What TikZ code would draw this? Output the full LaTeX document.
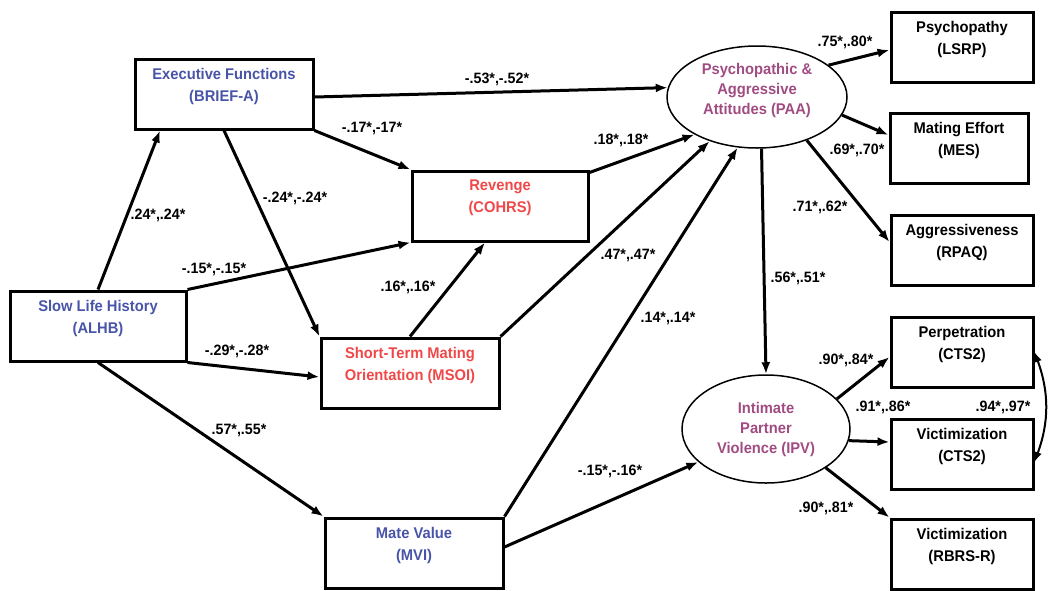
\documentclass[tikz,border=0pt]{standalone}
\usepackage{fontspec}
\setmainfont{Liberation Sans}[FakeStretch=0.95]
\usepackage{tikz}
\usetikzlibrary{calc}
\usetikzlibrary{arrows.meta}
\usetikzlibrary{shapes.geometric}

\definecolor{predblue}{RGB}{72,84,168}
\definecolor{medred}{RGB}{240,72,72}
\definecolor{latpurple}{RGB}{160,76,130}

% two lines, set a little above the middle of the box
\newcommand\twoline[2]{#1\\#2\\[-3pt]\mbox{}}

\begin{document}
\begin{tikzpicture}[x=1pt,y=-1pt,
  box/.style={draw,line width=3pt,minimum width=178pt,minimum height=70pt,
    inner sep=0pt,align=center,font=\fontsize{15.5}{22}\selectfont\bfseries},
  ind/.style={box,minimum width=142pt},
  latent/.style={draw,ellipse,line width=1.5pt,inner sep=0pt,text=latpurple,
    minimum width=180pt,minimum height=102pt,align=center,
    font=\fontsize{15.5}{20}\selectfont\bfseries},
  arr/.style={line width=3pt,-{Latex[length=12pt,width=9pt]}},
  coef/.style={font=\fontsize{15}{18}\selectfont\bfseries,inner sep=0pt}]
  % Boundary
  \path[use as bounding box] (0,0) rectangle (1048,590);
  % Predictors
  \node[box,text=predblue] (ef) at (224,94) {\twoline{Executive Functions}{(BRIEF-A)}};
  \node[box,text=predblue,minimum width=176pt] (alhb) at (98,326) {\twoline{Slow Life History}{(ALHB)}};
  \node[box,text=medred,minimum width=176pt] (rev) at (500,206) {\twoline{Revenge}{(COHRS)}};
  \node[box,text=medred] (msoi) at (410,373) {\twoline{Short-Term Mating}{Orientation (MSOI)}};
  \node[box,text=predblue] (mvi) at (414,553) {\twoline{Mate Value}{(MVI)}};
  % Latent variables
  \node[latent] (paa) at (757,97) {Psychopathic \&\\Aggressive\\Attitudes (PAA)\\[-4pt]\mbox{}};
  \node[latent,minimum width=168pt,minimum height=108pt] (ipv) at (766,429) {Intimate\\Partner\\Violence (IPV)};
  % Indicators
  \node[ind] (psy) at (962,47) {\twoline{Psychopathy}{(LSRP)}};
  \node[ind,minimum width=138pt] (mes) at (959,148) {\twoline{Mating Effort}{(MES)}};
  \node[ind] (rpaq) at (962,250) {\twoline{Aggressiveness}{(RPAQ)}};
  \node[ind] (perp) at (962,352) {\twoline{Perpetration}{(CTS2)}};
  \node[ind] (vcts) at (962,454) {\twoline{Victimization}{(CTS2)}};
  \node[ind] (vrbrs) at (962,554) {\twoline{Victimization}{(RBRS-R)}};
  % Paths
  \draw[arr] (alhb.north) -- ([xshift=-64pt]ef.south);
  \draw[arr] (ef.south) -- (msoi.north west);
  \draw[arr] ([yshift=-3pt]ef.east) -- (paa.174);
  \draw[arr] (ef.south east) -- (rev.north west);
  \draw[arr] (alhb.north east) -- (rev.south west);
  \draw[arr] (alhb.south east) -- ([yshift=-4pt]msoi.west);
  \draw[arr] (alhb.south) -- (mvi.north west);
  \draw[arr] (msoi.north) -- ([xshift=-15pt]rev.south);
  \draw[arr] ([yshift=-3pt]rev.north east) -- (paa.211);
  \draw[arr] (msoi.north east) -- (paa.223);
  \draw[arr] (mvi.north east) -- (paa.249);
  \draw[arr] ([yshift=6pt]mvi.east) -- (ipv.206);
  \draw[arr] (paa.275) -- (ipv.north);
  % Loadings
  \draw[arr] (paa.24) -- ([yshift=-3pt]psy.west);
  \draw[arr] (paa.348) -- ([yshift=13pt]mes.west);
  \draw[arr] (paa.319) -- ([yshift=8pt]rpaq.west);
  \draw[arr] (ipv.23) -- ([yshift=-5pt]perp.west);
  \draw[arr] (ipv.352) -- ([yshift=12pt]vcts.west);
  \draw[arr] (ipv.327) -- (vrbrs.north west);
  \draw[line width=2pt,{Latex[length=10pt,width=8pt]}-{Latex[length=10pt,width=8pt]}]
    (perp.east) to[bend left=20] ([yshift=-8pt]vcts.east);
  % Coefficients
  \foreach \x/\y/\t [count=\i] in {158/215/{.24*,.24*}, 295/198/{-.24*,-.24*},
      497/79/{-.53*,-.52*}, 372/128/{-.17*,-17*}, 214/269/{-.15*,-.15*},
      408/287/{.16*,.16*}, 237/351/{-.29*,-.28*}, 239/430/{.57*,.55*},
      621/140/{.18*,.18*}, 628/255/{.47*,.47*}, 668/318/{.14*,.14*},
      610/471/{-.15*,-.16*}, 798/278/{.56*,.51*}, 845/42/{.75*,.80*},
      857/150/{.69*,.70*}, 820/207/{.71*,.62*}, 846/360/{.90*,.84*},
      883/407/{.91*,.86*}, 1003/407/{.94*,.97*}, 826/508/{.90*,.81*}}
    \node[coef] (c\i) at (\x,\y) {\t};
\end{tikzpicture}
\end{document}
